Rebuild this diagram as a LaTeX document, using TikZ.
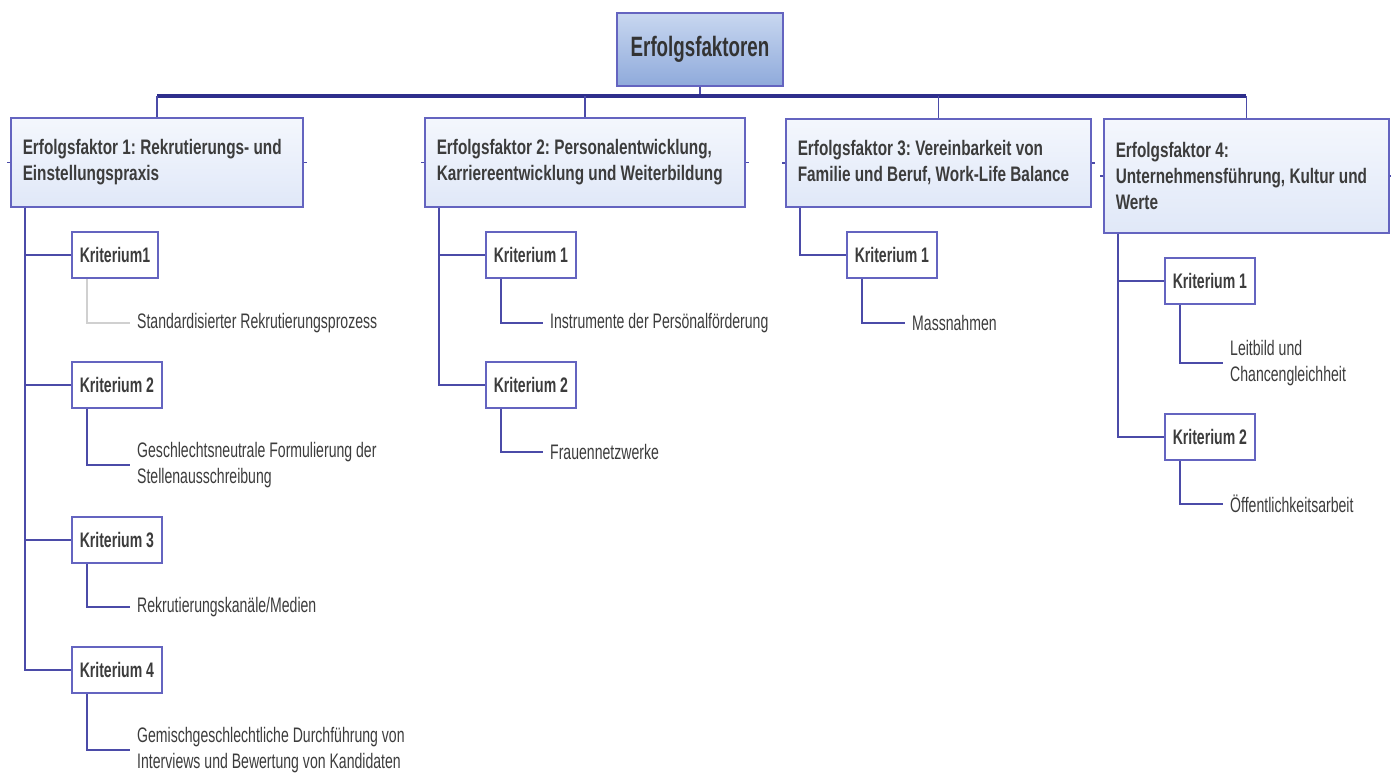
\documentclass[tikz,border=0pt]{standalone}
\usepackage{fontspec}
\setmainfont[FakeStretch=0.67]{Liberation Sans}
\newfontfamily\factorfont[FakeStretch=0.73]{Liberation Sans}
\definecolor{linie}{HTML}{4B4BA8}
\definecolor{rand}{HTML}{6464C0}
\definecolor{busblau}{HTML}{2E2E8C}
\definecolor{txt}{HTML}{3C3C3C}
\definecolor{grau}{HTML}{D0D0D0}
\definecolor{rootoben}{HTML}{C8D7F0}
\definecolor{rootunten}{HTML}{8FAADB}
\definecolor{fakoben}{HTML}{F4F7FD}
\definecolor{fakunten}{HTML}{E0E8F8}
\begin{document}
\frenchspacing
\begin{tikzpicture}[x=1pt,y=-1pt,line cap=butt,line join=miter,text=txt,
	font=\fontsize{21}{26}\selectfont,
	conn/.style={draw=linie,line width=1.5pt},
	kopf/.style={draw=rand,line width=1.5pt,top color=rootoben,bottom color=rootunten,minimum width=166pt,minimum height=73pt,text=black!80,font=\fontsize{28}{32}\selectfont\bfseries},
	faktor/.style={draw=rand,line width=1.5pt,top color=fakoben,bottom color=fakunten,anchor=north west,align=flush left,inner xsep=12pt,font=\fontsize{21}{26}\factorfont\bfseries},
	krit/.style={draw=rand,line width=1.5pt,fill=white,anchor=west,minimum height=46pt,inner xsep=8pt,font=\fontsize{21}{26}\selectfont\bfseries},
	blatt/.style={anchor=west,align=left,inner xsep=7pt,inner ysep=0pt}]
	\useasboundingbox (0,0) rectangle (1391,772);
	% Wurzel und Faktoren
	\node[kopf] (root) at (700,49.5) {Erfolgsfaktoren};
	\node[faktor,minimum width=292pt,minimum height=89pt,text width=268pt] (f1) at (10,117) {Erfolgsfaktor 1: Rekrutierungs- und\\Einstellungspraxis};
	\node[faktor,minimum width=320pt,minimum height=89pt,text width=296pt] (f2) at (424,117) {Erfolgsfaktor 2: Personalentwicklung,\\Karriereentwicklung und Weiterbildung};
	\node[faktor,minimum width=305pt,minimum height=88pt,text width=281pt] (f3) at (785,118) {Erfolgsfaktor 3: Vereinbarkeit von\\Familie und Beruf, Work-Life Balance};
	\node[faktor,minimum width=285pt,minimum height=114pt,text width=261pt] (f4) at (1103,118) {Erfolgsfaktor 4:\\Unternehmensführung, Kultur und\\Werte};
	\coordinate (bus) at (700,96);
	\draw[conn] (root.south) -- (root.south |- bus);
	\draw[draw=busblau,line width=3.5pt] (f1.north |- bus) -- (f4.north |- bus);
	\foreach \f in {f1,f2,f3,f4} \draw[conn] (\f.north |- bus) -- (\f.north) (\f.west) -- ++(-3,0) (\f.east) -- ++(3,0);
	% Kriterien
	\node[krit] (k11) at (71,255) {Kriterium1};
	\node[krit] (k12) at (71,385) {Kriterium 2};
	\node[krit] (k13) at (71,540) {Kriterium 3};
	\node[krit] (k14) at (71,670) {Kriterium 4};
	\node[krit] (k21) at (485,255) {Kriterium 1};
	\node[krit] (k22) at (485,385) {Kriterium 2};
	\node[krit] (k31) at (846,255) {Kriterium 1};
	\node[krit] (k41) at (1164,281) {Kriterium 1};
	\node[krit] (k42) at (1164,437) {Kriterium 2};
	\foreach \f/\k in {f1/k11,f1/k12,f1/k13,f1/k14,f2/k21,f2/k22,f3/k31,f4/k41,f4/k42}
		\draw[conn] ([xshift=15pt]\f.south west) |- (\k.west);
	% Massnahmen
	\node[blatt] (b11) at (130,323) {Standardisierter Rekrutierungsprozess};
	\node[blatt] (b12) at (130,465) {Geschlechtsneutrale Formulierung der\\Stellenausschreibung};
	\node[blatt] (b13) at (130,607) {Rekrutierungskanäle/Medien};
	\node[blatt] (b14) at (130,750) {Gemischgeschlechtliche Durchführung von\\Interviews und Bewertung von Kandidaten};
	\node[blatt] (b21) at (543,323) {Instrumente der Persönalförderung};
	\node[blatt] (b22) at (543,452) {Frauennetzwerke};
	\node[blatt] (b31) at (905,323) {Massnahmen};
	\node[blatt] (b41) at (1223,363) {Leitbild und\\Chancengleichheit};
	\node[blatt] (b42) at (1223,504) {Öffentlichkeitsarbeit};
	\draw[conn,draw=grau] ([xshift=16pt]k11.south west) |- (b11.west);
	\foreach \k/\b in {k12/b12,k13/b13,k14/b14,k21/b21,k22/b22,k31/b31,k41/b41,k42/b42}
		\draw[conn] ([xshift=16pt]\k.south west) |- (\b.west);
\end{tikzpicture}
\end{document}
